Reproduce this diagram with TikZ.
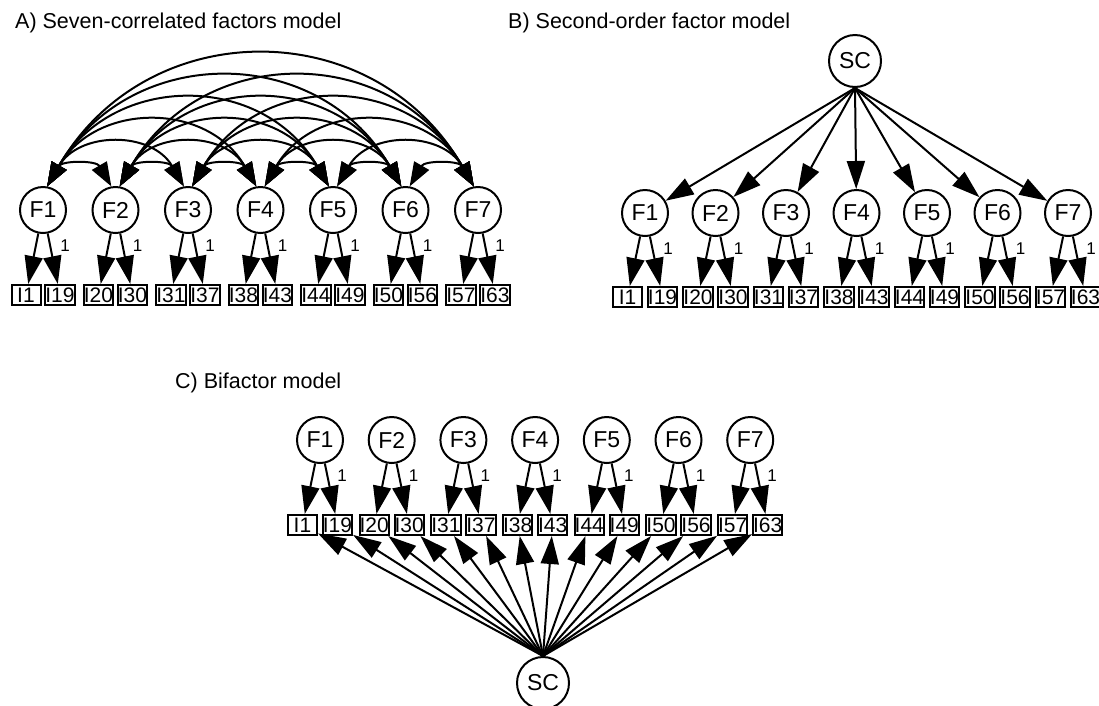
\documentclass[tikz,border=0pt]{standalone}
\usepackage{fontspec}
\setmainfont{Liberation Sans}
\usetikzlibrary{arrows.meta}
\begin{document}
\begin{tikzpicture}[x=1pt,y=1pt,
  lat/.style={circle,draw,line width=2pt,minimum size=46pt,inner sep=0pt,font=\fontsize{23}{23}\selectfont},
  scnode/.style={lat,minimum size=52pt},
  man/.style={rectangle,draw,line width=2pt,minimum width=29pt,minimum height=20pt,inner sep=0pt,font=\fontsize{21}{21}\selectfont},
  arr/.style={line width=2pt,-{Triangle[length=28pt,width=18pt]}},
  cov/.style={line width=2pt,{Triangle[length=24pt,width=17pt]}-{Triangle[length=24pt,width=17pt]}},
  lab/.style={font=\fontsize{17}{17}\selectfont,inner sep=0pt},
  ttl/.style={font=\fontsize{21.5}{21.5}\selectfont,anchor=west,inner sep=0pt}]
\useasboundingbox (0,0) rectangle (1099,-705);
% titles
\node[ttl] (tA) at (15,-23) {A) Seven-correlated factors model};
\node[ttl] (tB) at (508,-23) {B) Second-order factor model};
\node[ttl] (tC) at (175,-383) {C) Bifactor model};
% Panel A
\foreach \i/\a/\b in {1/I1/I19,2/I20/I30,3/I31/I37,4/I38/I43,5/I44/I49,6/I50/I56,7/I57/I63}{
  \pgfmathsetmacro\xx{43+(\i-1)*72.5}
  \node[lat] (A\i) at (\xx,-210) {F\i};
  \node[man] (Aa\i) at (\xx-17,-295) {\a};
  \node[man] (Ab\i) at (\xx+17,-295) {\b};
  \draw[arr] (A\i) -- (Aa\i);
  \draw[arr] (A\i) -- (Ab\i);
  \node[lab] (Al\i) at (\xx+22,-246) {1};
}
\foreach \i in {1,...,6}{
  \pgfmathtruncatemacro\nx{\i+1}
  \foreach \j in {\nx,...,7}{
    \draw[cov] (A\i.80) to[out=60,in=120,looseness=1.2] (A\j.100);
  }
}
% Panel B
\node[scnode] (BSC) at (855,-61) {SC};
\foreach \i/\a/\b in {1/I1/I19,2/I20/I30,3/I31/I37,4/I38/I43,5/I44/I49,6/I50/I56,7/I57/I63}{
  \pgfmathsetmacro\xx{645+(\i-1)*70.5}
  \node[lat] (B\i) at (\xx,-213) {F\i};
  \node[man] (Ba\i) at (\xx-17.5,-297) {\a};
  \node[man] (Bb\i) at (\xx+17.5,-297) {\b};
  \draw[arr] (B\i) -- (Ba\i);
  \draw[arr] (B\i) -- (Bb\i);
  \node[lab] (Bl\i) at (\xx+23,-249) {1};
  \draw[arr] (BSC.south) -- (B\i);
}
% Panel C
\node[scnode] (CSC) at (543,-683) {SC};
\foreach \i/\a/\b in {1/I1/I19,2/I20/I30,3/I31/I37,4/I38/I43,5/I44/I49,6/I50/I56,7/I57/I63}{
  \pgfmathsetmacro\xx{320+(\i-1)*71.7}
  \node[lat] (C\i) at (\xx,-440) {F\i};
  \node[man] (Ca\i) at (\xx-17.5,-525) {\a};
  \node[man] (Cb\i) at (\xx+17.5,-525) {\b};
  \draw[arr] (C\i) -- (Ca\i);
  \draw[arr] (C\i) -- (Cb\i);
  \node[lab] (Cl\i) at (\xx+22,-476) {1};
  \draw[arr] (CSC.north) -- (Ca\i);
  \draw[arr] (CSC.north) -- (Cb\i);
}
\end{tikzpicture}
\end{document}
